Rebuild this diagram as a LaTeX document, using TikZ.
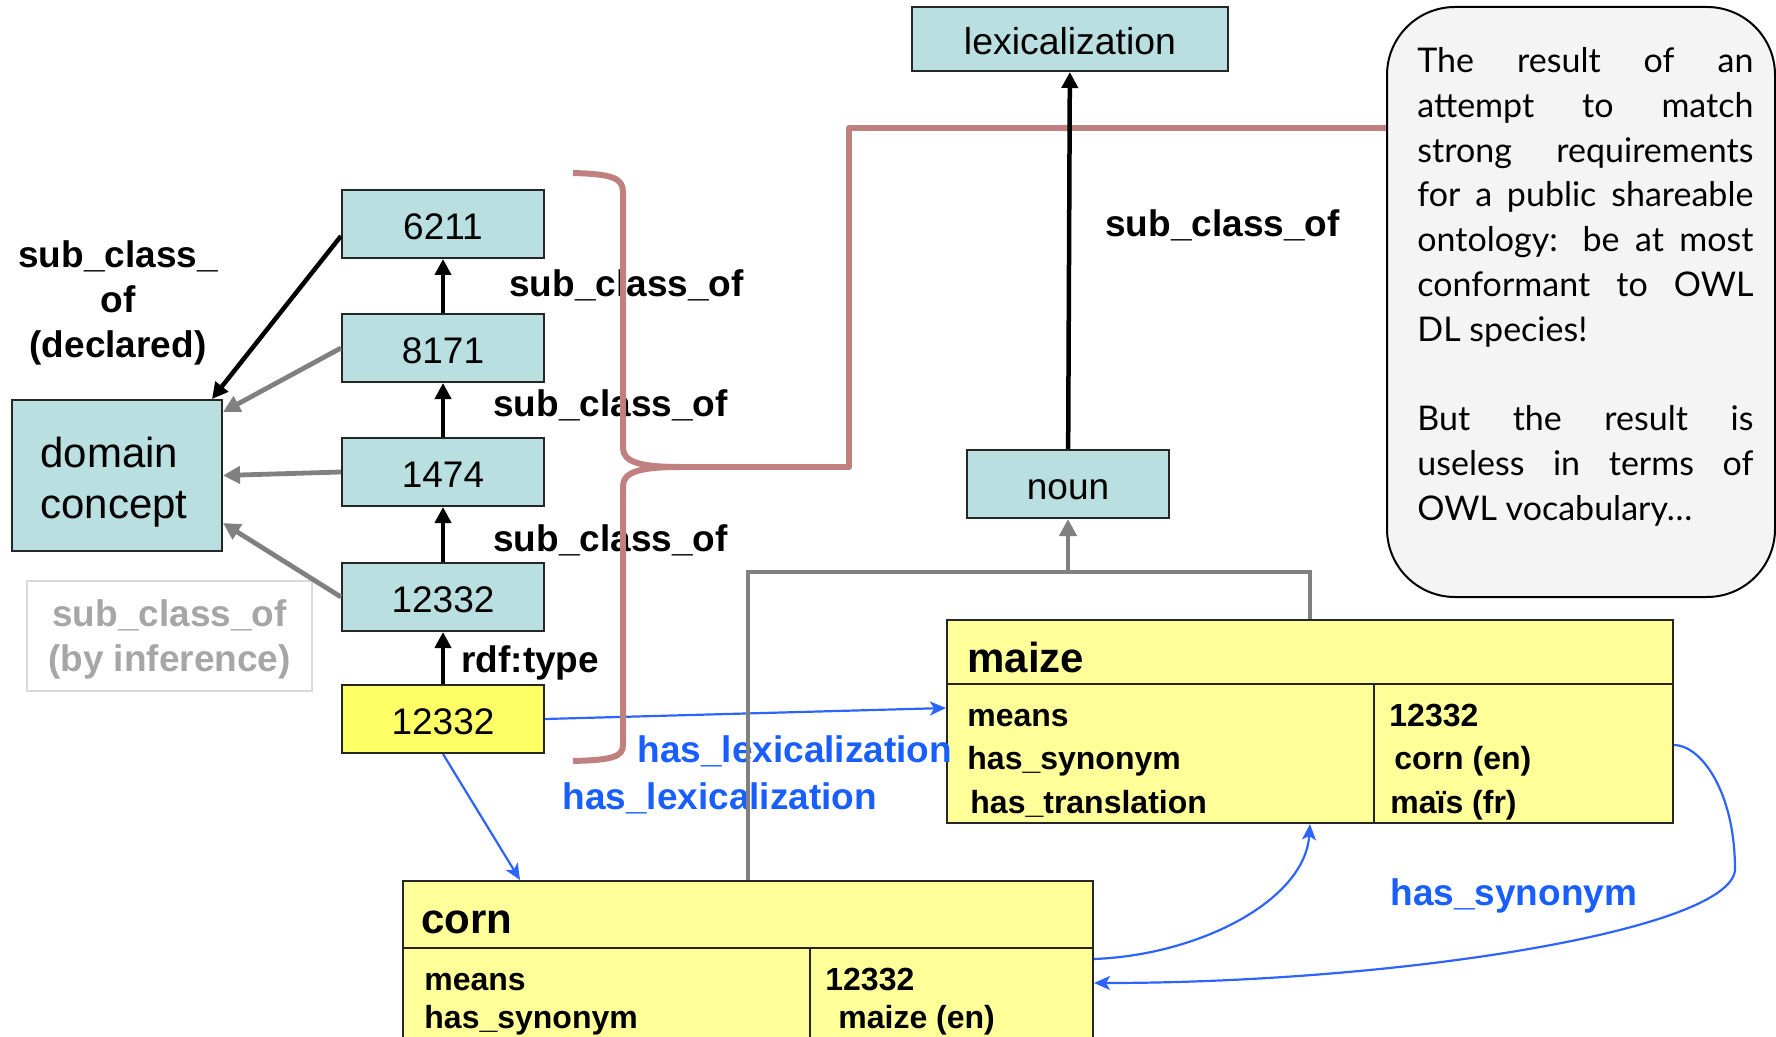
\documentclass[tikz,border=0pt]{standalone}
\usepackage{fontspec}
\setmainfont{Liberation Sans}
\newfontfamily\notefont{Lato}
\usetikzlibrary{arrows.meta,calc}
\definecolor{boxblue}{RGB}{185,223,225}
\definecolor{ylw}{RGB}{255,255,102}
\definecolor{paleylw}{RGB}{255,255,153}
\definecolor{linkblue}{RGB}{45,100,255}
\definecolor{txtblue}{RGB}{25,95,255}
\definecolor{redline}{RGB}{192,128,128}
\definecolor{midgray}{RGB}{128,128,128}
\definecolor{infgray}{RGB}{166,166,166}
\definecolor{infborder}{RGB}{217,217,217}
\definecolor{notefill}{RGB}{244,244,244}
\begin{document}
\begin{tikzpicture}[x=0.5pt,y=-0.5pt,
  cls/.style={draw=black!85, line width=1pt, fill=boxblue, minimum width=101pt, minimum height=34pt, inner sep=0pt, text height=15.2pt, text depth=0pt, font=\fontsize{18.5}{22}\selectfont},
  inst/.style={cls, fill=ylw},
  lbl/.style={font=\fontsize{18.5}{22.5}\selectfont\bfseries, inner sep=0pt},
  bluelbl/.style={lbl, text=txtblue},
  row/.style={font=\fontsize{16}{19}\selectfont\bfseries, inner sep=0pt, anchor=base west},
  hdr/.style={font=\fontsize{21}{25}\selectfont\bfseries, inner sep=0pt, anchor=base west},
  table/.style={draw=black!85, line width=1pt, fill=paleylw, inner sep=0pt},
  tline/.style={draw=black!85, line width=1pt},
  blackarr/.style={line width=2.25pt, -{Triangle[length=8pt,width=8pt]}},
  grayline/.style={draw=midgray, line width=2.4pt},
  grayarr/.style={draw=midgray, line width=2.4pt, -{Triangle[length=8.5pt,width=8.5pt]}},
  bluearr/.style={draw=linkblue, line width=1.1pt, -{Stealth[length=8pt,width=7pt,inset=2pt]}},
  redpath/.style={draw=redline, line width=3pt, line join=round},
]
\useasboundingbox (0,0) rectangle (1776,1037);
\clip (0,0) rectangle (1776,1037);

% class boxes
\node[cls, minimum width=158pt, minimum height=32pt, font=\fontsize{18.7}{22}\selectfont] (lex) at (1070,39) {lexicalization};
\node[cls] (c6211) at (443,224) {6211};
\node[cls] (c8171) at (443,348) {8171};
\node[cls] (c1474) at (443,472) {1474};
\node[cls] (c12332) at (443,597) {12332};
\node[inst] (i12332) at (443,719) {12332};
\node[cls, minimum width=105pt, minimum height=75.5pt] (dc) at (117,475.5) {};
\node[inner sep=0pt, align=left, font=\fontsize{21}{25.5}\selectfont] (dctext) at ($(dc.center)+(-3,7)$) {domain\\concept};
\node[cls] (noun) at (1068,484) {noun};

% inference box
\node[draw=infborder, line width=1pt, minimum width=142.5pt, minimum height=55pt, inner sep=0pt] (inf) at (169.5,636) {};
\node[inner sep=0pt, align=center, text=infgray, font=\fontsize{18.5}{22.5}\selectfont\bfseries] (inftext) at ($(inf.center)+(0,3.5)$) {sub\_class\_of\\(by inference)};

% declared label
\node[lbl, align=center] (decl) at (118,303) {sub\_class\_\\of\\(declared)};

% maize table
\node[table, minimum width=363pt, minimum height=101.5pt] (maize) at (1310,721.5) {};
\draw[tline] (947,684) -- (1673,684);
\draw[tline] (1374,684) -- (1374,823);
\node[hdr] (maizeh) at (967,672) {maize};
\node[row] (mr1) at (967,726) {means};
\node[row] (mr2) at (967,769.5) {has\_synonym};
\node[row] (mr3) at (970,813) {has\_translation};
\node[row] (mv1) at (1389,726) {12332};
\node[row] (mv2) at (1394,769.5) {corn (en)};
\node[row] (mv3) at (1390,813) {maïs (fr)};

% corn table
\node[table, minimum width=345pt, minimum height=82pt] (corn) at (748,963) {};
\draw[tline] (403,948) -- (1093,948);
\draw[tline] (810,948) -- (810,1045);
\node[hdr] (cornh) at (421,933) {corn};
\node[row] (cr1) at (424,990) {means};
\node[row] (cr2) at (424,1028) {has\_synonym};
\node[row] (cv1) at (825,990) {12332};
\node[row] (cv2) at (838,1028) {maize (en)};

% note
\node[draw=black, line width=1pt, fill=notefill, rounded corners=34pt, minimum width=194pt, minimum height=295pt, inner sep=0pt] (note) at (1581,302) {};
\node[anchor=north west, inner sep=0pt, align=left, font=\notefont\fontsize{17}{22.4}\selectfont] (notetext) at (1417,47) {%
\makebox[168pt][s]{The result of an}\\
\makebox[168pt][s]{attempt to match}\\
\makebox[168pt][s]{strong requirements}\\
\makebox[168pt][s]{for a public shareable}\\
\makebox[168pt][s]{ontology: be at most}\\
\makebox[168pt][s]{conformant to OWL}\\
DL species!\\[22.4pt]
\makebox[168pt][s]{But the result is}\\
\makebox[168pt][s]{useless in terms of}\\
OWL vocabulary\ldots};

% labels
\node[lbl, anchor=west] (l1) at (509,285) {sub\_class\_of};
\node[lbl, anchor=west] (l2) at (493,405) {sub\_class\_of};
\node[lbl, anchor=west] (l3) at (493,540) {sub\_class\_of};
\node[lbl, anchor=west] (l4) at (1105,225) {sub\_class\_of};
\node[lbl, anchor=west] (l5) at (461,663) {rdf:type};
\node[bluelbl, anchor=west] (b1) at (637,751) {has\_lexicalization};
\node[bluelbl, anchor=west] (b2) at (562,798) {has\_lexicalization};
\node[bluelbl, anchor=west] (b3) at (1390,896) {has\_synonym};

% blue arrows
\draw[bluearr] (i12332.east) -- ($(maize.west)+(0,-13.5)$);
\draw[bluearr] (i12332.south) -- ($(corn.north west)+(118,0)$);
\draw[bluearr] ($(corn.east)+(0,-4)$) .. controls (1200,955) and (1305,900) .. (maize.south);
\draw[bluearr] ($(maize.east)+(0,23.5)$) .. controls (1700,745) and (1735,790) .. (1735,870) .. controls (1730,930) and (1400,983) .. ($(corn.east)+(0,20)$);

% gray connectors
\coordinate (join) at (1068,572);
\draw[grayline] (corn.north) |- (join);
\draw[grayline] (maize.north) |- (join);
\draw[grayarr] (join) -- (noun.south);
\draw[grayarr] (c8171.west) -- ($(dc.north east)+(0,13)$);
\draw[grayarr] (c1474.west) -- (dc.east);
\draw[grayarr] (c12332.west) -- ($(dc.south east)+(0,-29)$);

% red brace and link
\coordinate (bracetip) at (680,467);
\coordinate (redturn) at (849,128);
\draw[redpath] (573,173) .. controls (612,174) and (623,178) .. (623,192) -- (623,448) .. controls (623,462) and (640,467) .. (bracetip) .. controls (640,467) and (623,472) .. (623,486) -- (623,745) .. controls (623,757) and (612,760) .. (573,761);
\draw[redpath] (bracetip) -- (849,467) -- (redturn) -- (redturn -| note.west);

% black arrows
\draw[blackarr] (c8171) -- (c6211);
\draw[blackarr] (c1474) -- (c8171);
\draw[blackarr] (c12332) -- (c1474);
\draw[blackarr] (i12332) -- (c12332);
\draw[blackarr] (noun) -- (lex);
\draw[blackarr] ($(c6211.west)+(0,12)$) -- ($(dc.north east)+(-11,0)$);
\end{tikzpicture}
\end{document}
